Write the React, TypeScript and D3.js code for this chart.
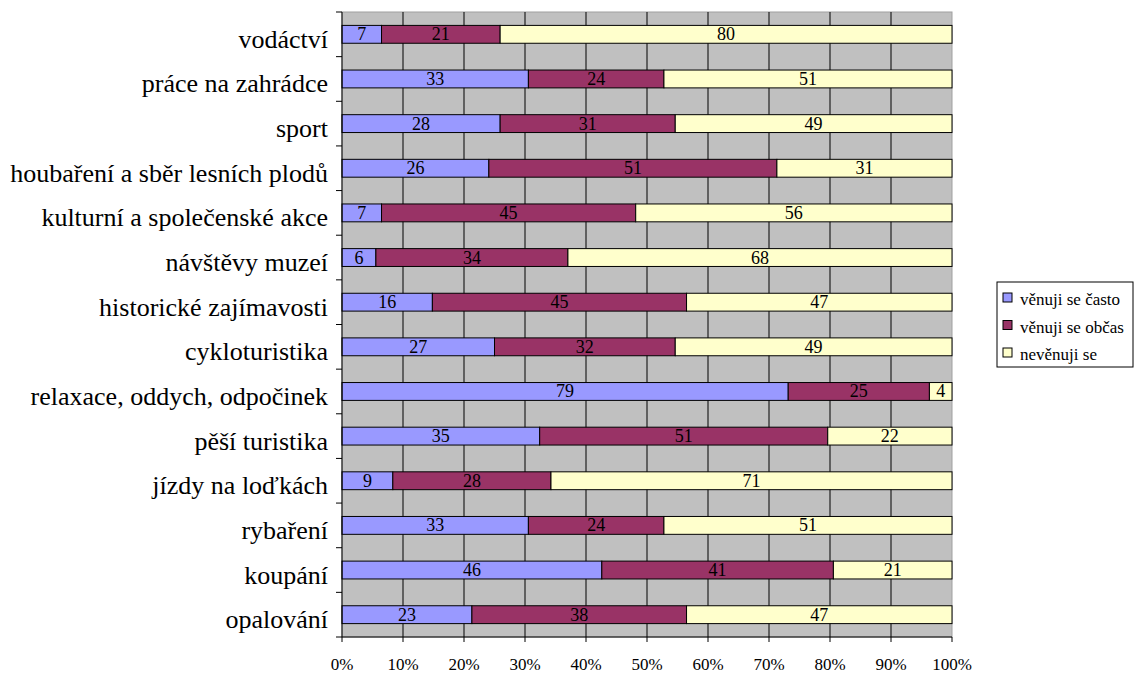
import React from "react";
import * as d3 from "d3";

const categories = [
  "vodáctví",
  "práce na zahrádce",
  "sport ",
  "houbaření a sběr lesních plodů",
  "kulturní a společenské akce",
  "návštěvy muzeí",
  "historické zajímavosti ",
  "cykloturistika",
  "relaxace, oddych, odpočinek",
  "pěší turistika",
  "jízdy na loďkách",
  "rybaření",
  "koupání",
  "opalování",
];
const often = [7, 33, 28, 26, 7, 6, 16, 27, 79, 35, 9, 33, 46, 23];
const sometimes = [21, 24, 31, 51, 45, 34, 45, 32, 25, 51, 28, 24, 41, 38];
const never = [80, 51, 49, 31, 56, 68, 47, 49, 4, 22, 71, 51, 21, 47];
const seriesNames = ["věnuji se často", "věnuji se občas", "nevěnuji se"];
const colors = ["#9999FF", "#993366", "#FFFFCC"];
const xTicks = [0, 0.1, 0.2, 0.3, 0.4, 0.5, 0.6, 0.7, 0.8, 0.9, 1];

const FONT = "Liberation Serif, Times New Roman, serif";

export default function App() {
  const W = 1136, H = 673;
  const L = 342, R = 952, T = 12, B = 637;
  const x = d3.scaleLinear().domain([0, 1]).range([L, R]);
  const y = d3.scaleBand<string>().domain(categories).range([T, B]).paddingInner(0.6).paddingOuter(0.3);
  const yb = d3.scaleBand<string>().domain(categories).range([T, B]);
  const series = [often, sometimes, never];

  return (
    <svg width={W} height={H} style={{ position: "absolute", left: 0, top: 0 }} fontFamily={FONT}>
      <rect x={0} y={0} width={W} height={H} fill="#fff" />
      <rect x={L} y={T} width={R - L} height={B - T} fill="#C0C0C0" stroke="#A0A0A0" strokeWidth={1} />
      {xTicks.slice(1, -1).map((t) => (
        <line key={t} x1={x(t)} x2={x(t)} y1={T} y2={B} stroke="#000" strokeWidth={1} />
      ))}
      {categories.map((c, i) => {
        const total = often[i] + sometimes[i] + never[i];
        let acc = 0;
        return (
          <g key={c}>
            {series.map((s, k) => {
              const v = s[i];
              const x0 = x(acc / total);
              const x1 = x((acc + v) / total);
              acc += v;
              const yy = y(c)!;
              return (
                <g key={k}>
                  <rect x={x0} y={yy} width={x1 - x0} height={y.bandwidth()} fill={colors[k]} stroke="#000" strokeWidth={1} />
                  <text x={(x0 + x1) / 2} y={yy + y.bandwidth() / 2 + 6} textAnchor="middle" fontSize={18} fill="#000" fontFamily={FONT}>
                    {v}
                  </text>
                </g>
              );
            })}
          </g>
        );
      })}
      {/* left axis */}
      <line x1={L} x2={L} y1={T} y2={B} stroke="#000" strokeWidth={1} />
      {categories.map((c) => (
        <line key={"t" + c} x1={L - 6} x2={L} y1={yb(c)!} y2={yb(c)!} stroke="#000" />
      ))}
      <line x1={L - 6} x2={L} y1={B} y2={B} stroke="#000" />
      {categories.map((c) => (
        <text key={"l" + c} x={328} y={yb(c)! + yb.bandwidth() / 2 + 13.5} textAnchor="end" fontSize={26} fill="#000" fontFamily={FONT}>
          {c.trim()}
        </text>
      ))}
      {/* bottom axis */}
      <line x1={L} x2={R} y1={B} y2={B} stroke="#000" />
      {xTicks.map((t) => (
        <g key={"x" + t}>
          <line x1={x(t)} x2={x(t)} y1={B} y2={B + 5} stroke="#000" />
          <text x={x(t)} y={670} textAnchor="middle" fontSize={17} fill="#000" fontFamily={FONT}>
            {d3.format(".0%")(t)}
          </text>
        </g>
      ))}
      {/* legend */}
      <rect x={997} y={282} width={136} height={85} fill="#fff" stroke="#000" />
      {seriesNames.map((n, k) => (
        <g key={n}>
          <rect x={1003} y={293 + k * 27.5} width={9} height={9} fill={colors[k]} stroke="#000" />
          <text x={1020} y={305 + k * 27.5} fontSize={17} fill="#000" fontFamily={FONT}>
            {n}
          </text>
        </g>
      ))}
    </svg>
  );
}
